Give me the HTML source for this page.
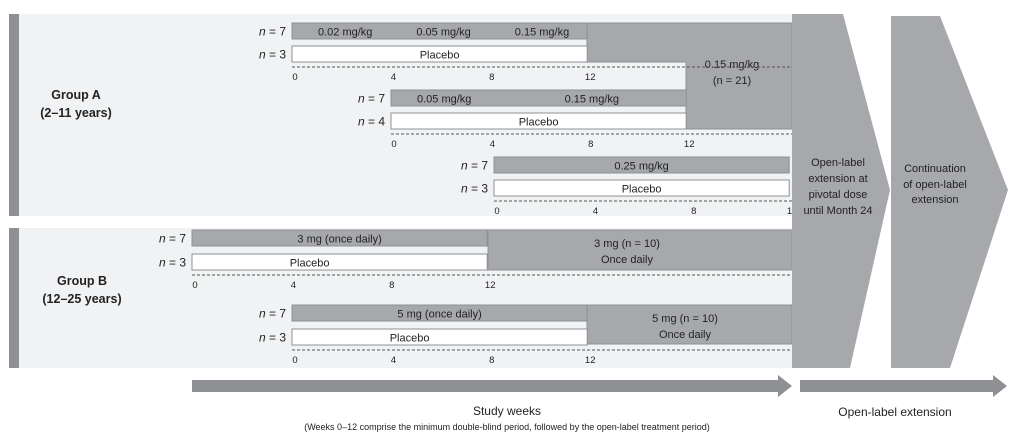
<!DOCTYPE html>
<html><head><meta charset="utf-8"><style>
html,body{margin:0;padding:0;background:#fff}
svg{display:block;font-family:"Liberation Sans",sans-serif}
</style></head><body>
<svg id="c" width="1012" height="441" viewBox="0 0 1012 441">
<rect x="9" y="14" width="783" height="202" fill="#f1f2f4"/>
<rect x="9" y="14" width="10" height="202" fill="#8f9094"/>
<rect x="9" y="228" width="783" height="140" fill="#f1f2f4"/>
<rect x="9" y="228" width="10" height="140" fill="#8f9094"/>
<text x="76" y="99" font-size="12.5" font-weight="bold" text-anchor="middle" fill="#222">Group A</text>
<text x="76" y="117" font-size="12.5" font-weight="bold" text-anchor="middle" fill="#222">(2–11 years)</text>
<text x="82" y="285" font-size="12.5" font-weight="bold" text-anchor="middle" fill="#222">Group B</text>
<text x="82" y="303" font-size="12.5" font-weight="bold" text-anchor="middle" fill="#222">(12–25 years)</text>
<g id="blocks"></g>
<g id="cohorts"></g>
<polygon points="792,14 843,14 890,190 850,368 792,368" fill="#a7a8ab"/>
<text font-size="11" text-anchor="middle" fill="#222"><tspan x="838" y="166">Open-label</tspan><tspan x="838" y="182">extension at</tspan><tspan x="838" y="198">pivotal dose</tspan><tspan x="838" y="214">until Month 24</tspan></text>
<polygon points="891,16 940,16 1008,190 950,368 891,368" fill="#a7a8ab"/>
<text font-size="11" text-anchor="middle" fill="#222"><tspan x="935" y="172">Continuation</tspan><tspan x="935" y="188">of open-label</tspan><tspan x="935" y="203">extension</tspan></text>
<polygon points="192,380 778,380 778,375 792,386 778,397 778,392 192,392" fill="#8f9094"/>
<polygon points="800,380 993,380 993,375 1007,386 993,397 993,392 800,392" fill="#8f9094"/>
<text x="507" y="415" font-size="12" text-anchor="middle" fill="#222">Study weeks</text>
<text x="507" y="430" font-size="9" text-anchor="middle" fill="#222">(Weeks 0–12 comprise the minimum double-blind period, followed by the open-label treatment period)</text>
<text x="895" y="416" font-size="12" text-anchor="middle" fill="#222">Open-label extension</text>
</svg>
<script>
const NS="http://www.w3.org/2000/svg";
// cohort data: start x of week 0, row top y, n labels, dose segments
const cohortX0=[292,391,494,192,292];
const cohortY=[23,90,157,230,305];
const activeN=[7,7,7,7,7];
const placeboN=[3,4,3,3,3];
const doseLabels=[["0.02 mg/kg","0.05 mg/kg","0.15 mg/kg"],["0.05 mg/kg","0.15 mg/kg"],["0.25 mg/kg"],["3 mg (once daily)"],["5 mg (once daily)"]];
const doseWeeks=[[4,4,4],[4,8],[12],[12],[12]];
const cohortWeeks=[12,12,12,12,12];
const tickWeeks=[0,4,8,12];
const xW=24.6;
function sx(i,w){return cohortX0[i]+w*xW;}
const root=document.getElementById('cohorts');
function mk(tag,attrs,parent){const e=document.createElementNS(NS,tag);for(const k in attrs)e.setAttribute(k,attrs[k]);(parent||root).appendChild(e);return e;}
function txt(x,y,s,size,anchor){const t=mk('text',{x:x,y:y,'font-size':size,'text-anchor':anchor||'middle',fill:'#222'});t.textContent=s;return t;}
// open-label blocks
const bl=document.getElementById('blocks');
const blockPts=[[[587,23],[792,23],[792,129],[686,129],[686,62],[587,62]],[[488,230],[792,230],[792,270],[488,270]],[[587,305],[792,305],[792,344],[587,344]]];
const blockText=[["0.15 mg/kg","(n = 21)"],["3 mg (n = 10)","Once daily"],["5 mg (n = 10)","Once daily"]];
const blockTxtPos=[[732,68],[627,247],[685,322]];
blockPts.forEach((p,i)=>{
 const pg=mk('polygon',{points:p.map(q=>q.join(',')).join(' '),fill:'#a7a8ab',stroke:'#8f9094','stroke-width':1},bl);
 
 
 blockText[i].forEach((s,j)=>{const t=mk('text',{x:blockTxtPos[i][0],y:blockTxtPos[i][1]+j*16,'font-size':11,'text-anchor':'middle',fill:'#222'},bl);t.textContent=s;
 
 });
});
cohortX0.forEach((x0,i)=>{
 const y=cohortY[i];const y2=y+(i>=3?24:23);
 const end=sx(i,cohortWeeks[i]);
 const a=mk('rect',{x:x0,y:y,width:end-x0,height:16,fill:'#a7a8ab',stroke:'#8f9094','stroke-width':1});
 
 
 let w=0;
 doseWeeks[i].forEach((d,j)=>{const cx=doseLabels[i].length>1?sx(i,w+d/2)+4:(x0+end)/2;const t=txt(cx,y+12.5,doseLabels[i][j],11);
  
  w+=d;});
 const p=mk('rect',{x:x0,y:y2,width:end-x0,height:16,fill:'#fff',stroke:'#8f9094','stroke-width':1});
 
 
 const pt=txt((x0+end)/2+(i>=3?-30:0),y2+12.5,'Placebo',11);
 
 
 [[activeN[i],y+12.5],[placeboN[i],y2+12.5]].forEach(([n,ty])=>{
  const t=mk('text',{x:x0-6,y:ty,'font-size':12,'text-anchor':'end',fill:'#222'});
  t.innerHTML='<tspan font-style="italic">n</tspan> = '+n;
  
  
 });
 const dy=y2+21;
 const dl=mk('line',{x1:x0,x2:792,y1:dy,y2:dy,stroke:'#555','stroke-width':1,'stroke-dasharray':'3,2'});
 
 
 tickWeeks.forEach(tw=>{const t=txt(sx(i,tw)+3,dy+13,String(tw),9.5);
  
  });
});
</script>
</body></html>
